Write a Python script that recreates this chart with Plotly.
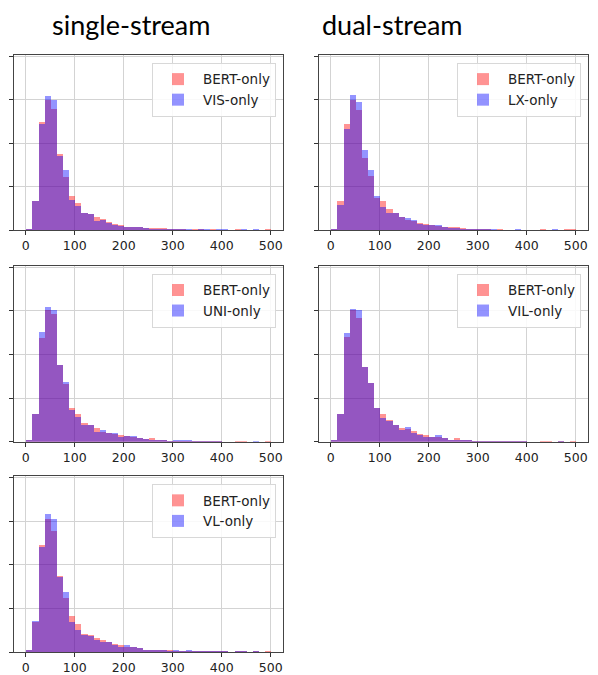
import numpy as np
import plotly.graph_objects as go

# ---- data (bin heights, 40 bins of width 12.5 over 0..500) ----
bin_edges = np.arange(0, 500 + 12.5, 12.5)
bin_centers = (bin_edges[:-1] + bin_edges[1:]) / 2
bin_width = 12.5

bert_vis = [0.04, 0.67, 2.50, 2.99, 2.78, 1.75, 1.22, 0.80, 0.63, 0.41, 0.37, 0.31, 0.27, 0.20, 0.14, 0.13, 0.09, 0.08, 0.07, 0.05,
            0.05, 0.05, 0.05, 0.03, 0.02, 0.02, 0.01, 0.02, 0.02, 0.01, 0.02, 0.01, 0.01, 0.0, 0.02, 0.01, 0.0, 0.01, 0.0, 0.02]
vis_only = [0.04, 0.67, 2.44, 3.09, 2.99, 1.72, 1.39, 0.70, 0.57, 0.41, 0.37, 0.21, 0.23, 0.17, 0.12, 0.10, 0.09, 0.08, 0.07, 0.05,
            0.03, 0.02, 0.03, 0.02, 0.03, 0.03, 0.03, 0.01, 0.02, 0.02, 0.01, 0.02, 0.02, 0.0, 0.01, 0.02, 0.0, 0.02, 0.0, 0.0]

bert_lx = [0.04, 0.68, 2.44, 2.99, 2.76, 1.66, 1.26, 0.74, 0.68, 0.50, 0.41, 0.31, 0.25, 0.21, 0.18, 0.16, 0.12, 0.11, 0.09, 0.08,
           0.07, 0.05, 0.04, 0.03, 0.02, 0.02, 0.01, 0.02, 0.01, 0.01, 0.01, 0.01, 0.0, 0.0, 0.02, 0.0, 0.0, 0.01, 0.02, 0.02]
lx_only = [0.04, 0.59, 2.32, 3.11, 2.94, 1.85, 1.38, 0.79, 0.55, 0.41, 0.39, 0.30, 0.28, 0.23, 0.16, 0.13, 0.12, 0.12, 0.07, 0.05,
           0.05, 0.03, 0.03, 0.02, 0.02, 0.02, 0.03, 0.01, 0.01, 0.0, 0.02, 0.01, 0.01, 0.0, 0.0, 0.0, 0.02, 0.0, 0.0, 0.0]

bert_uni = [0.04, 0.64, 2.37, 3.03, 2.92, 1.76, 1.32, 0.78, 0.64, 0.43, 0.40, 0.32, 0.23, 0.21, 0.18, 0.16, 0.13, 0.11, 0.08, 0.07,
            0.08, 0.05, 0.05, 0.02, 0.01, 0.01, 0.01, 0.02, 0.02, 0.01, 0.01, 0.01, 0.0, 0.0, 0.02, 0.02, 0.0, 0.0, 0.0, 0.02]
uni_only = [0.04, 0.64, 2.51, 3.08, 3.02, 1.77, 1.37, 0.73, 0.58, 0.40, 0.39, 0.22, 0.27, 0.21, 0.20, 0.11, 0.13, 0.14, 0.08, 0.07,
            0.05, 0.04, 0.03, 0.02, 0.03, 0.03, 0.03, 0.01, 0.02, 0.02, 0.02, 0.01, 0.0, 0.0, 0.0, 0.0, 0.0, 0.01, 0.0, 0.0]

bert_vil = [0.03, 0.64, 2.40, 3.02, 2.84, 1.71, 1.34, 0.78, 0.64, 0.50, 0.40, 0.32, 0.29, 0.24, 0.18, 0.17, 0.11, 0.12, 0.08, 0.05,
            0.09, 0.05, 0.05, 0.02, 0.01, 0.02, 0.02, 0.02, 0.02, 0.02, 0.02, 0.02, 0.0, 0.0, 0.02, 0.02, 0.0, 0.02, 0.0, 0.02]
vil_only = [0.03, 0.64, 2.49, 3.05, 3.02, 1.72, 1.35, 0.78, 0.55, 0.47, 0.38, 0.27, 0.34, 0.20, 0.17, 0.11, 0.11, 0.15, 0.08, 0.05,
            0.05, 0.05, 0.03, 0.02, 0.02, 0.02, 0.02, 0.01, 0.02, 0.02, 0.02, 0.02, 0.0, 0.0, 0.0, 0.0, 0.0, 0.02, 0.0, 0.0]

bert_vl = [0.03, 0.68, 2.44, 3.05, 2.76, 1.75, 1.24, 0.82, 0.65, 0.42, 0.40, 0.32, 0.28, 0.22, 0.18, 0.15, 0.12, 0.11, 0.08, 0.05,
           0.05, 0.05, 0.04, 0.03, 0.02, 0.02, 0.01, 0.02, 0.02, 0.01, 0.01, 0.01, 0.01, 0.0, 0.02, 0.01, 0.0, 0.01, 0.0, 0.02]
vl_only = [0.03, 0.72, 2.40, 3.17, 3.05, 1.71, 1.37, 0.68, 0.51, 0.40, 0.37, 0.27, 0.23, 0.22, 0.15, 0.12, 0.15, 0.11, 0.08, 0.05,
           0.05, 0.03, 0.03, 0.02, 0.03, 0.02, 0.03, 0.01, 0.02, 0.02, 0.01, 0.02, 0.01, 0.0, 0.01, 0.02, 0.0, 0.02, 0.0, 0.0]

panels = [
    ("BERT-only", bert_vis, "VIS-only", vis_only),
    ("BERT-only", bert_lx, "LX-only", lx_only),
    ("BERT-only", bert_uni, "UNI-only", uni_only),
    ("BERT-only", bert_vil, "VIL-only", vil_only),
    ("BERT-only", bert_vl, "VL-only", vl_only),
]
column_titles = ["single-stream", "dual-stream"]
x_ticks = [0, 100, 200, 300, 400, 500]

# ---- layout geometry (target pixels in the 598x675 window) ----
OFF = 8  # page body margin shifts the figure by 8px
W, H = 598 - OFF, 675 - OFF
boxes = [  # (left, right, top, bottom) in window px
    (13.5, 283, 55, 231),
    (318.5, 588, 55, 231),
    (13.5, 283, 266.5, 443),
    (318.5, 588, 266.5, 443),
    (13.5, 283, 477.5, 654),
]


def px_x(v):
    return (v - OFF) / W


def px_y(v):
    return 1 - (v - OFF) / H


RED = "rgb(255,0,0)"
BLUE = "rgb(0,0,255)"
ALPHA = 0.42

fig = go.Figure()
layout = dict(
    width=W, height=H, margin=dict(l=0, r=0, t=0, b=0),
    paper_bgcolor="white", plot_bgcolor="white",
    barmode="overlay", bargap=0,
    font=dict(family="DejaVu Sans", color="#222"),
)

for i, (lab_a, vals_a, lab_b, vals_b) in enumerate(panels):
    n = i + 1
    xa = "x" if n == 1 else f"x{n}"
    ya = "y" if n == 1 else f"y{n}"
    lg = "legend" if n == 1 else f"legend{n}"
    for lab, vals, col in [(lab_a, vals_a, RED), (lab_b, vals_b, BLUE)]:
        fig.add_trace(go.Bar(
            x=bin_centers, y=vals, width=bin_width, name=lab,
            marker=dict(color=col, line=dict(width=0)), opacity=ALPHA,
            xaxis=xa, yaxis=ya, legend=lg, showlegend=True,
        ))
    l, r, t, b = boxes[i]
    xkey = "xaxis" if n == 1 else f"xaxis{n}"
    ykey = "yaxis" if n == 1 else f"yaxis{n}"
    layout[xkey] = dict(
        domain=[px_x(l), px_x(r)], anchor=ya, range=[-25, 525],
        tickvals=x_ticks, ticks="outside", ticklen=4, tickcolor="#333",
        tickfont=dict(size=12.5, color="#222"),
        showgrid=True, gridcolor="#d3d3d3", gridwidth=1,
        showline=True, linecolor="#444", linewidth=1, mirror=True,
        zeroline=False,
    )
    layout[ykey] = dict(
        domain=[px_y(b), px_y(t)], anchor=xa, range=[0, 4.03],
        tickvals=[0, 1, 2, 3, 4], showticklabels=False,
        ticks="outside", ticklen=4, tickcolor="#333",
        showgrid=True, gridcolor="#d3d3d3", gridwidth=1,
        showline=True, linecolor="#444", linewidth=1, mirror=True,
        zeroline=False,
    )
    layout[lg] = dict(
        x=px_x(r - 7), y=px_y(t + 8), xanchor="right", yanchor="top",
        xref="paper", yref="paper",
        bgcolor="rgba(255,255,255,0.85)", bordercolor="#d8d8d8", borderwidth=1,
        font=dict(family="DejaVu Sans", size=13.5, color="#222"),
        tracegroupgap=0, itemsizing="constant", itemwidth=40,
    )

fig.update_layout(**layout)

title_x = [131, 392.5]
for txt, cx in zip(column_titles, title_x):
    fig.add_annotation(
        text=txt, x=px_x(cx), y=px_y(25), xref="paper", yref="paper",
        xanchor="center", yanchor="middle", showarrow=False,
        font=dict(family="Lato", size=27, color="black"),
    )

fig.write_html("out.html")
